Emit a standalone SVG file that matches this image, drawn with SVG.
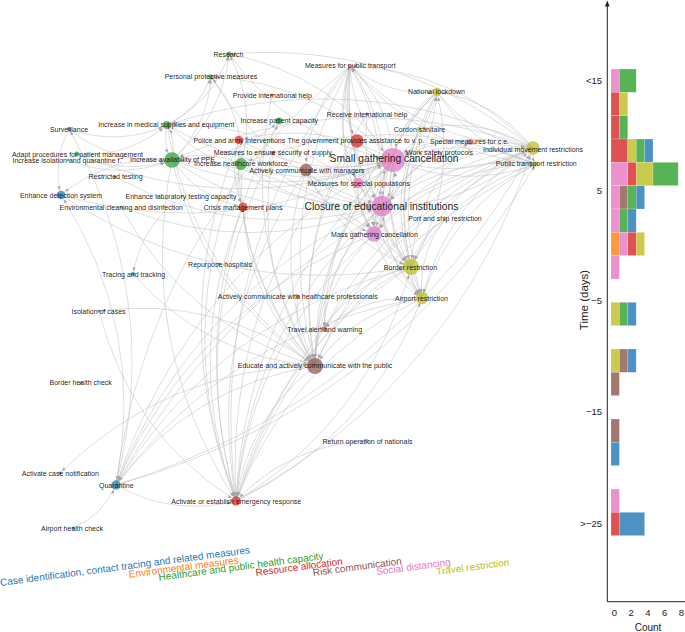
<svg xmlns="http://www.w3.org/2000/svg" width="685" height="632" viewBox="0 0 685 632">
<style>
.e path{fill:none;stroke:#bdbdbd;stroke-width:.5}
.n circle{fill-opacity:.72}
.b{fill:#1f77b4}.o{fill:#ff7f0e}.g{fill:#2ca02c}.r{fill:#d62728}.br{fill:#8c564b}.p{fill:#e377c2}.y{fill:#bcbd22}
text{font-family:"Liberation Sans",Arial,sans-serif}
.n text{font-size:7px;fill:#111;fill-opacity:.98;text-anchor:middle}
.n text.L{font-size:10.3px}
.hb rect{fill-opacity:.8;stroke:#fff;stroke-opacity:.4;stroke-width:.5}
.ax{stroke:#222;stroke-width:1;fill:none}
.tk{font-size:9.5px;fill:#222}
.lg text{font-size:10px}
</style>
<defs>
<marker id="m2" markerUnits="userSpaceOnUse" markerWidth="4" markerHeight="3" refX="6.5" refY="1.5" orient="auto" overflow="visible"><path d="M0 0L4 1.5L0 3z" fill="#a5a5a5"/></marker>
<marker id="m5" markerUnits="userSpaceOnUse" markerWidth="4" markerHeight="3" refX="9" refY="1.5" orient="auto" overflow="visible"><path d="M0 0L4 1.5L0 3z" fill="#a5a5a5"/></marker>
<marker id="m7" markerUnits="userSpaceOnUse" markerWidth="4" markerHeight="3" refX="12" refY="1.5" orient="auto" overflow="visible"><path d="M0 0L4 1.5L0 3z" fill="#a5a5a5"/></marker>
<marker id="m8" markerUnits="userSpaceOnUse" markerWidth="4" markerHeight="3" refX="12" refY="1.5" orient="auto" overflow="visible"><path d="M0 0L4 1.5L0 3z" fill="#a5a5a5"/></marker>
<marker id="m10" markerUnits="userSpaceOnUse" markerWidth="4" markerHeight="3" refX="14.5" refY="1.5" orient="auto" overflow="visible"><path d="M0 0L4 1.5L0 3z" fill="#a5a5a5"/></marker>
<marker id="m13" markerUnits="userSpaceOnUse" markerWidth="4" markerHeight="3" refX="16.5" refY="1.5" orient="auto" overflow="visible"><path d="M0 0L4 1.5L0 3z" fill="#a5a5a5"/></marker>
</defs>
<rect width="685" height="632" fill="#fff"/>
<g id="connectors" class="e">
<g marker-end="url(#m13)">
<path d="M533 148Q460.6 126 393 160"/><path d="M536 164Q465.3 133.4 393 160"/><path d="M437 92Q401.4 117.2 393 160"/><path d="M350 66Q352.7 121.6 393 160"/><path d="M357 141Q371.2 157.7 393 160"/><path d="M358 183Q380.1 178.5 393 160"/><path d="M382 206Q396.7 185.2 393 160"/><path d="M306 170Q351.5 182.4 393 160"/><path d="M241 164Q317.8 192.4 393 160"/><path d="M172 160Q282.5 204.2 393 160"/><path d="M167 125Q273 187.7 393 160"/><path d="M229 54Q289.8 139.8 393 160"/><path d="M470 142Q427.9 135.6 393 160"/><path d="M239 140Q312 180.8 393 160"/><path d="M374 234Q398.3 200.8 393 160"/><path d="M61 195Q234 243.9 393 160"/><path d="M77 154Q233.8 220.2 393 160"/>
</g>
<g marker-end="url(#m10)">
<path d="M393 160Q378.3 180.8 382 206"/><path d="M533 148Q445.9 146.8 382 206"/><path d="M536 164Q450.6 154.2 382 206"/><path d="M437 92Q386.7 138 382 206"/><path d="M350 66Q338 142.4 382 206"/><path d="M358 183Q365.4 199.3 382 206"/><path d="M357 141Q356.5 178.5 382 206"/><path d="M306 170Q336.8 203.2 382 206"/><path d="M241 164Q303.1 213.2 382 206"/><path d="M172 160Q267.8 225 382 206"/><path d="M167 125Q258.3 208.5 382 206"/><path d="M211 77Q270.7 175.7 382 206"/><path d="M239 140Q297.3 201.6 382 206"/><path d="M374 234Q383.6 221.6 382 206"/><path d="M470 142Q413.2 156.4 382 206"/><path d="M121 207Q251.7 258.7 382 206"/><path d="M115 177Q242.7 244.9 382 206"/>
</g>
<g marker-end="url(#m7)">
<path d="M393 160Q368.7 193.2 374 234"/><path d="M382 206Q372.4 218.4 374 234"/><path d="M533 148Q436.3 159.2 374 234"/><path d="M536 164Q441 166.6 374 234"/><path d="M437 92Q377.1 150.4 374 234"/><path d="M350 66Q328.4 154.8 374 234"/><path d="M358 183Q355.8 211.7 374 234"/><path d="M306 170Q327.2 215.6 374 234"/><path d="M357 141Q346.9 190.9 374 234"/><path d="M439 153Q390.3 180.5 374 234"/>
<path d="M393 160Q380.6 217.1 411 267"/><path d="M382 206Q384.3 242.3 411 267"/><path d="M374 234Q385.9 257.9 411 267"/><path d="M533 148Q448.2 183.1 411 267"/><path d="M536 164Q452.9 190.5 411 267"/><path d="M437 92Q389 174.3 411 267"/><path d="M419 129Q387.4 196.4 411 267"/><path d="M445 219Q418.4 236.2 411 267"/><path d="M350 66Q340.3 178.7 411 267"/><path d="M306 170Q339.1 239.5 411 267"/><path d="M470 142Q415.5 192.7 411 267"/><path d="M367 114Q358.4 199.3 411 267"/><path d="M61 195Q221.6 301 411 267"/><path d="M236 501Q370.3 419 411 267"/>
<path d="M393 160Q312.8 247.4 315 366"/><path d="M382 206Q316.5 272.6 315 366"/><path d="M374 234Q318.1 288.2 315 366"/><path d="M411 267Q343.2 297.3 315 366"/><path d="M422 298Q354.9 310.6 315 366"/><path d="M306 170Q271.3 269.8 315 366"/><path d="M357 141Q291 245.1 315 366"/><path d="M241 164Q237.6 279.8 315 366"/><path d="M172 160Q202.3 291.6 315 366"/><path d="M239 140Q231.8 268.2 315 366"/><path d="M167 125Q192.8 275.1 315 366"/><path d="M243 207Q247.2 300.9 315 366"/><path d="M273 153Q251.4 267.9 315 366"/><path d="M272 95Q239.3 239.1 315 366"/><path d="M367 114Q290.6 229.6 315 366"/><path d="M533 148Q380.4 213.4 315 366"/><path d="M324 329Q312.1 345.7 315 366"/><path d="M298 297Q292.7 334.9 315 366"/><path d="M437 92Q321.2 204.6 315 366"/><path d="M121 207Q186.2 325.3 315 366"/><path d="M133 274Q205.6 356.4 315 366"/><path d="M350 66Q272.5 209 315 366"/>
<path d="M116 485Q391.9 399.9 533 148"/><path d="M236 501Q455.1 383.9 533 148"/><path d="M393 160Q465.4 182 533 148"/><path d="M437 92Q473.8 139.2 533 148"/><path d="M350 66Q425.1 143.6 533 148"/><path d="M382 206Q469.1 207.2 533 148"/>
<path d="M536 164Q388.5 105 241 164"/><path d="M350 66Q338.5 104.9 357 141"/><path d="M350 66Q307.2 109.2 306 170"/>
</g>
<g marker-end="url(#m5)">
<path d="M393 160Q379.9 234.8 422 298"/><path d="M382 206Q383.6 260 422 298"/><path d="M411 267Q410.3 284.7 422 298"/><path d="M533 148Q447.5 200.8 422 298"/><path d="M536 164Q452.2 208.2 422 298"/><path d="M437 92Q388.3 192 422 298"/><path d="M445 219Q417.7 253.9 422 298"/><path d="M350 66Q339.6 196.4 422 298"/><path d="M374 234Q385.2 275.6 422 298"/><path d="M419 129Q386.7 214.1 422 298"/><path d="M236 501Q369.6 436.7 422 298"/>
<path d="M393 160Q189.5 267.1 116 485"/><path d="M382 206Q193.2 292.3 116 485"/><path d="M374 234Q194.8 307.9 116 485"/><path d="M411 267Q219.9 317 116 485"/><path d="M422 298Q231.6 330.3 116 485"/><path d="M315 366Q191.7 385.7 116 485"/><path d="M533 148Q257.1 233.1 116 485"/><path d="M73 528Q103.1 515.1 116 485"/><path d="M350 66Q149.2 228.7 116 485"/>
<path d="M116 485Q146.5 329 61 195"/><path d="M69 129Q51.8 160.4 61 195"/><path d="M172 160Q109.5 155.3 61 195"/>
<path d="M99 311Q129.5 433.4 236 501"/><path d="M116 485Q172.8 517 236 501"/><path d="M393 160Q246.3 299.1 236 501"/><path d="M382 206Q250 324.3 236 501"/><path d="M374 234Q251.6 339.9 236 501"/><path d="M411 267Q276.7 349 236 501"/><path d="M422 298Q288.4 362.3 236 501"/><path d="M315 366Q248.5 417.7 236 501"/><path d="M243 207Q180.7 352.6 236 501"/><path d="M241 164Q171.1 331.5 236 501"/><path d="M306 170Q204.8 321.5 236 501"/><path d="M357 141Q224.5 296.8 236 501"/><path d="M239 140Q165.3 319.9 236 501"/><path d="M367 441Q289.5 444.8 236 501"/><path d="M533 148Q313.9 265.1 236 501"/><path d="M536 164Q318.6 272.5 236 501"/><path d="M172 160Q135.8 343.3 236 501"/><path d="M273 153Q184.9 319.6 236 501"/><path d="M279 121Q181.5 302.4 236 501"/><path d="M350 66Q206 260.7 236 501"/>
<path d="M69 129Q118.8 146.6 167 125"/><path d="M77 154Q127.8 157.5 167 125"/><path d="M172 160Q176.5 141.5 167 125"/><path d="M533 148Q354.6 63.3 167 125"/><path d="M382 206Q290.7 122.5 167 125"/>
<path d="M241 164Q268.6 150.1 279 121"/><path d="M172 160Q233.3 161.9 279 121"/><path d="M393 160Q320 119.2 239 140"/>
<path d="M241 164Q233.4 185.9 243 207"/><path d="M239 140Q227.6 174.3 243 207"/><path d="M172 160Q198.1 197.7 243 207"/>
<path d="M350 66Q388.3 96.4 437 92"/><path d="M393 160Q428.6 134.8 437 92"/><path d="M533 148Q496.2 100.8 437 92"/><path d="M411 267Q459 184.7 437 92"/><path d="M382 206Q432.3 160 437 92"/><path d="M350 66Q330.6 126.1 358 183"/>
</g>
<g marker-end="url(#m8)">
<path d="M167 125Q162.5 143.5 172 160"/><path d="M77 154Q123.3 176 172 160"/><path d="M68 160Q120 180.8 172 160"/><path d="M241 164Q207.3 148.2 172 160"/><path d="M533 148Q350.1 81.8 172 160"/><path d="M411 267Q312.9 165.7 172 160"/><path d="M69 129Q114.3 165.1 172 160"/>
</g>
<g marker-end="url(#m2)">
<path d="M393 160Q324.7 230.7 324 329"/><path d="M411 267Q355.1 280.6 324 329"/><path d="M422 298Q366.8 293.9 324 329"/><path d="M533 148Q392.3 196.7 324 329"/><path d="M382 206Q328.4 255.9 324 329"/>
<path d="M116 485Q163.7 297.6 69 129"/><path d="M182 196Q141.9 225.2 133 274"/><path d="M315 366Q218 295.3 99 311"/><path d="M315 366Q166.1 368.5 60 473"/>
<path d="M116 485Q390.2 408.5 536 164"/><path d="M393 160Q463.7 190.6 536 164"/><path d="M437 92Q472.1 147.8 536 164"/><path d="M350 66Q423.4 152.2 536 164"/><path d="M533 148Q531.3 156.6 536 164"/>
<path d="M172 160Q221.7 118.4 229 54"/><path d="M167 125Q212.2 101.9 229 54"/><path d="M241 164Q257 106.6 229 54"/><path d="M393 160Q332.2 74.2 229 54"/><path d="M533 148Q399.8 40.2 229 54"/>
<path d="M172 160Q208.1 126.3 211 77"/><path d="M167 125Q198.6 109.8 211 77"/><path d="M241 164Q243.4 114.5 211 77"/><path d="M393 160Q318.6 82.1 211 77"/>
<path d="M393 160Q390.3 104.4 350 66"/><path d="M382 206Q394 129.6 350 66"/><path d="M533 148Q457.9 70.4 350 66"/><path d="M374 234Q395.6 145.2 350 66"/>
<path d="M393 160Q435.1 166.4 470 142"/><path d="M533 148Q479.8 115.7 419 129"/>
</g>
</g>
<g id="n20" class="n"><circle class="p" cx="393" cy="160" r="12"/><text class="L" x="394" y="162">Small gathering cancellation</text></g>
<g id="n28" class="n"><circle class="p" cx="382" cy="206" r="10.3"/><text class="L" x="381.5" y="209.5">Closure of educational institutions</text></g>
<g id="n19" class="n"><circle class="g" cx="172" cy="160" r="7.8"/><text x="172.5" y="162">Increase availability of PPE</text></g>
<g id="n32" class="n"><circle class="p" cx="374" cy="234" r="7.8"/><text x="374.5" y="236.5">Mass gathering cancellation</text></g>
<g id="n34" class="n"><circle class="y" cx="411" cy="267" r="8"/><text x="410.5" y="269.5">Border restriction</text></g>
<g id="n40" class="n"><circle class="br" cx="315" cy="366" r="8"/><text x="315" y="368">Educate and actively communicate with the public</text></g>
<g id="n14" class="n"><circle class="y" cx="533" cy="148" r="6.7"/><text x="533" y="152">Individual movement restrictions</text></g>
<g id="n12" class="n"><circle class="r" cx="357" cy="141" r="6.7"/><text x="356" y="143">The government provides assistance to v. p.</text></g>
<g id="n23" class="n"><circle class="br" cx="306" cy="170" r="6.3"/><text x="307" y="172.5">Actively communicate with managers</text></g>
<g id="n21" class="n"><circle class="g" cx="241" cy="164" r="6"/><text x="241" y="166">Increase healthcare workforce</text></g>
<g id="n37" class="n"><circle class="y" cx="422" cy="298" r="6.3"/><text x="421.5" y="300.5">Airport restriction</text></g>
<g id="n25" class="n"><circle class="p" cx="358" cy="183" r="5.3"/><text x="358.8" y="185.5">Measures for special populations</text></g>
<g id="n44" class="n"><circle class="b" cx="116" cy="485" r="4.7"/><text x="116.3" y="487.5">Quarantine</text></g>
<g id="n45" class="n"><circle class="r" cx="236" cy="501" r="4.7"/><text x="236.3" y="503.5">Activate or establish emergency response</text></g>
<g id="n30" class="n"><circle class="r" cx="243" cy="207" r="4.5"/><text x="243" y="209.5">Crisis management plans</text></g>
<g id="n5" class="n"><circle class="y" cx="437" cy="92" r="4.2"/><text x="436.5" y="94.3">National lockdown</text></g>
<g id="n26" class="n"><circle class="b" cx="61" cy="195" r="4.3"/><text x="61" y="197.5">Enhance detection system</text></g>
<g id="n11" class="n"><circle class="r" cx="239" cy="140" r="4"/><text x="239.3" y="142.5">Police and army interventions</text></g>
<g id="n8" class="n"><circle class="g" cx="167" cy="125" r="4"/><text x="166.3" y="127.3">Increase in medical supplies and equipment</text></g>
<g id="n7" class="n"><circle class="g" cx="279" cy="121" r="3.4"/><text x="279.3" y="122.8">Increase patient capacity</text></g>
<g id="n13" class="n"><circle class="p" cx="470" cy="142" r="3"/><text x="469.5" y="144.3">Special measures for c.e.</text></g>
<g id="n1" class="n"><circle class="g" cx="229" cy="54" r="2.5"/><text x="228.5" y="56.5">Research</text></g>
<g id="n2" class="n"><circle class="g" cx="211" cy="77" r="2.5"/><text x="211" y="79.2">Personal protective measures</text></g>
<g id="n15" class="n"><circle class="g" cx="77" cy="154" r="2.5"/><text x="77.5" y="156.5">Adapt procedures for patient management</text></g>
<g id="n22" class="n"><circle class="y" cx="536" cy="164" r="2.5"/><text x="536.3" y="165.8">Public transport restriction</text></g>
<g id="n39" class="n"><circle class="br" cx="324" cy="329" r="2.5"/><text x="324.7" y="331.5">Travel alert and warning</text></g>
<g id="n10" class="n"><circle class="y" cx="419" cy="129" r="2.3"/><text x="419.5" y="131.5">Cordon sanitaire</text></g>
<g id="n9" class="n"><circle class="b" cx="69" cy="129" r="2"/><text x="69" y="131.8">Surveillance</text></g>
<g id="n16" class="n"><circle class="r" cx="273" cy="153" r="2"/><text x="272.8" y="155.2">Measures to ensure security of supply</text></g>
<g id="n35" class="n"><circle class="b" cx="133" cy="274" r="2"/><text x="133.5" y="276.5">Tracing and tracking</text></g>
<g id="n36" class="n"><circle class="br" cx="298" cy="297" r="2"/><text x="297.8" y="299.2">Actively communicate with healthcare professionals</text></g>
<g id="n42" class="n"><circle class="p" cx="367" cy="441" r="2"/><text x="367.5" y="443.5">Return operation of nationals</text></g>
<g id="n3" class="n"><circle class="p" cx="350" cy="66" r="1.8"/><text x="350.3" y="68.2">Measures for public transport</text></g>
<g id="n4" class="n"><circle class="r" cx="272" cy="95" r="1.5"/><text x="272.3" y="97.5">Provide international help</text></g>
<g id="n6" class="n"><circle class="r" cx="367" cy="114" r="1.5"/><text x="367" y="116.8">Receive international help</text></g>
<g id="n17" class="n"><circle class="p" cx="439" cy="153" r="1.5"/><text x="439.5" y="154.8">Work safety protocols</text></g>
<g id="n18" class="n"><circle class="g" cx="68" cy="160" r="1.5"/><text x="67" y="162.5">Increase isolation and quarantine f.</text></g>
<g id="n24" class="n"><circle class="b" cx="115" cy="177" r="1.5"/><text x="115.5" y="179.2">Restricted testing</text></g>
<g id="n27" class="n"><circle class="g" cx="182" cy="196" r="1"/><text x="181" y="198.5">Enhance laboratory testing capacity</text></g>
<g id="n29" class="n"><circle class="o" cx="121" cy="207" r="1.5"/><text x="121.3" y="209.8">Environmental cleaning and disinfection</text></g>
<g id="n31" class="n"><circle class="y" cx="445" cy="219" r="1.5"/><text x="445" y="220.8">Port and ship restriction</text></g>
<g id="n33" class="n"><circle class="g" cx="219" cy="264" r="1.2"/><text x="220" y="266.5">Repurpose hospitals</text></g>
<g id="n38" class="n"><circle class="b" cx="99" cy="311" r="1.5"/><text x="98.5" y="314">Isolation of cases</text></g>
<g id="n41" class="n"><circle class="b" cx="81" cy="383" r="1.5"/><text x="80.7" y="385.2">Border health check</text></g>
<g id="n43" class="n"><circle class="b" cx="60" cy="473" r="1.5"/><text x="60.3" y="475.5">Activate case notification</text></g>
<g id="n46" class="n"><circle class="b" cx="73" cy="528" r="1.5"/><text x="72" y="530.5">Airport health check</text></g>
<g id="legend" class="lg">
<text x="0.5" y="586" transform="rotate(-7.5 0.5 586)" fill="#1f77b4">Case identification, contact tracing and related measures</text>
<text x="129.3" y="577.7" transform="rotate(-7.5 129.3 577.7)" fill="#ff7f0e">Environmental measures</text>
<text x="159" y="580.7" transform="rotate(-7.5 159 580.7)" fill="#2ca02c">Healthcare and public health capacity</text>
<text x="256" y="576" transform="rotate(-7.5 256 576)" fill="#d62728">Resource allocation</text>
<text x="313.3" y="576" transform="rotate(-7.5 313.3 576)" fill="#8c564b">Risk communication</text>
<text x="376.7" y="575" transform="rotate(-7.5 376.7 575)" fill="#e377c2">Social distancing</text>
<text x="436.7" y="575" transform="rotate(-7.5 436.7 575)" fill="#bcbd22">Travel restriction</text>
</g>
<g id="histogram">
<g class="hb">
<rect class="p" x="611" y="69" width="8.4" height="23.3"/><rect class="g" x="619.4" y="69" width="16.8" height="23.3"/>
<rect class="r" x="611" y="92.3" width="8.4" height="23.3"/><rect class="y" x="619.4" y="92.3" width="8.4" height="23.3"/>
<rect class="r" x="611" y="115.7" width="8.4" height="23.3"/><rect class="g" x="619.4" y="115.7" width="8.4" height="23.3"/>
<rect class="r" x="611" y="139" width="16.8" height="23.3"/><rect class="y" x="627.8" y="139" width="8.4" height="23.3"/><rect class="g" x="636.2" y="139" width="8.4" height="23.3"/><rect class="b" x="644.6" y="139" width="8.4" height="23.3"/>
<rect class="p" x="611" y="162.3" width="16.8" height="23.3"/><rect class="r" x="627.8" y="162.3" width="8.4" height="23.3"/><rect class="y" x="636.2" y="162.3" width="16.8" height="23.3"/><rect class="g" x="653" y="162.3" width="25.2" height="23.3"/>
<rect class="p" x="611" y="185.7" width="8.4" height="23.3"/><rect class="br" x="619.4" y="185.7" width="8.4" height="23.3"/><rect class="g" x="627.8" y="185.7" width="8.4" height="23.3"/><rect class="b" x="636.2" y="185.7" width="8.4" height="23.3"/>
<rect class="p" x="611" y="209" width="8.4" height="23.3"/><rect class="g" x="619.4" y="209" width="8.4" height="23.3"/><rect class="b" x="627.8" y="209" width="8.4" height="23.3"/>
<rect class="o" x="611" y="232.3" width="8.4" height="23.3"/><rect class="p" x="619.4" y="232.3" width="8.4" height="23.3"/><rect class="r" x="627.8" y="232.3" width="8.4" height="23.3"/><rect class="y" x="636.2" y="232.3" width="8.4" height="23.3"/>
<rect class="p" x="611" y="255.7" width="8.4" height="23.3"/>
<rect class="y" x="611" y="302.3" width="8.4" height="23.3"/><rect class="g" x="619.4" y="302.3" width="8.4" height="23.3"/><rect class="b" x="627.8" y="302.3" width="8.4" height="23.3"/>
<rect class="y" x="611" y="349" width="8.4" height="23.3"/><rect class="br" x="619.4" y="349" width="8.4" height="23.3"/><rect class="b" x="627.8" y="349" width="8.4" height="23.3"/>
<rect class="br" x="611" y="372.3" width="8.4" height="23.3"/>
<rect class="br" x="611" y="419" width="8.4" height="23.3"/>
<rect class="b" x="611" y="442.3" width="8.4" height="23.3"/>
<rect class="p" x="611" y="489" width="8.4" height="23.3"/>
<rect class="r" x="611" y="512.3" width="8.4" height="23.3"/><rect class="b" x="619.4" y="512.3" width="25.2" height="23.3"/>
</g>
<path class="ax" d="M607.3 5V601.7H685"/>
<path d="M607.3 0.5L605 6.5H609.6z" fill="#222"/>
<g class="tk" text-anchor="end">
<text x="602" y="83.5">&lt;15</text>
<text x="602" y="194">5</text>
<text x="602" y="303.5">−5</text>
<text x="602" y="415">−15</text>
<text x="602" y="527">&gt;−25</text>
</g>
<g class="tk" text-anchor="middle">
<text x="614.3" y="616">0</text>
<text x="631.1" y="616">2</text>
<text x="647.9" y="616">4</text>
<text x="664.7" y="616">6</text>
<text x="681.5" y="616">8</text>
<text x="648" y="631" style="font-size:10px">Count</text>
<text x="588" y="300" transform="rotate(-90 588 300)" style="font-size:11.5px">Time (days)</text>
</g>
</g>
</svg>
